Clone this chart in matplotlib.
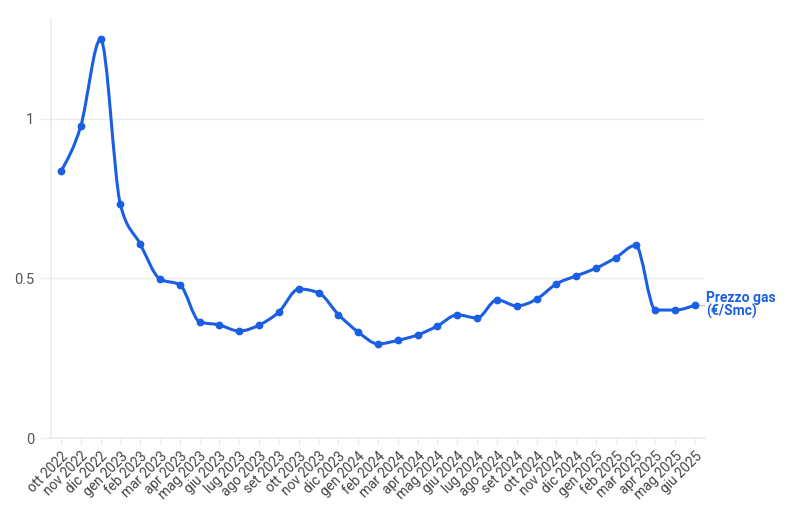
# prezzo gas mensile, ott 2022 - giu 2025

import numpy as np
import matplotlib.pyplot as plt
from matplotlib.path import Path
from matplotlib.patches import PathPatch

plt.rcParams['font.family'] = ['Roboto', 'DejaVu Sans']

# DATA
mesi = ["ott 2022", "nov 2022", "dic 2022", "gen 2023", "feb 2023", "mar 2023",
        "apr 2023", "mag 2023", "giu 2023", "lug 2023", "ago 2023", "set 2023",
        "ott 2023", "nov 2023", "dic 2023", "gen 2024", "feb 2024", "mar 2024",
        "apr 2024", "mag 2024", "giu 2024", "lug 2024", "ago 2024", "set 2024",
        "ott 2024", "nov 2024", "dic 2024", "gen 2025", "feb 2025", "mar 2025",
        "apr 2025", "mag 2025", "giu 2025"]
prezzo = [0.836, 0.977, 1.250, 0.732, 0.608, 0.498,
          0.480, 0.364, 0.354, 0.335, 0.354, 0.395,
          0.467, 0.455, 0.387, 0.332, 0.295, 0.306,
          0.323, 0.351, 0.386, 0.376, 0.433, 0.414,
          0.435, 0.483, 0.508, 0.532, 0.565, 0.604,
          0.401, 0.401, 0.417]
y_ticks = [0, 0.5, 1]
y_tick_labels = ["0", "0.5", "1"]
serie_label = "Prezzo gas\n(€/Smc)"

blue = '#1a5fe3'
grid_col = '#ececec'

x = np.arange(len(prezzo))
y = np.array(prezzo)


# monotone cubic (curveMonotoneX style) as bezier path
def monotone_path(x, y):
	n = len(x)
	h = np.diff(x)
	s = np.diff(y) / h
	t = np.zeros(n)
	for i in range(1, n - 1):
		p = (s[i-1] * h[i] + s[i] * h[i-1]) / (h[i-1] + h[i])
		t[i] = (np.sign(s[i-1]) + np.sign(s[i])) * min(abs(s[i-1]), abs(s[i]), 0.5 * abs(p))
	t[0] = (3 * s[0] - t[1]) / 2
	t[-1] = (3 * s[-1] - t[-2]) / 2
	verts = [(x[0], y[0])]
	codes = [Path.MOVETO]
	for i in range(n - 1):
		dx = h[i] / 3
		verts += [(x[i] + dx, y[i] + dx * t[i]), (x[i+1] - dx, y[i+1] - dx * t[i+1]), (x[i+1], y[i+1])]
		codes += [Path.CURVE4] * 3
	return Path(verts, codes)


fig = plt.figure(figsize=(7.94, 5.16), dpi=100)
ax = fig.add_axes([51/794, 1 - 438/516, (705-51)/794, (438-19)/516])

ax.set_xlim(-0.5, len(prezzo) - 0.5)
ax.set_ylim(0, 1.313)

# grid
for yt in y_ticks[1:]:
	ax.axhline(yt, color=grid_col, lw=1, zorder=0)

ax.add_patch(PathPatch(monotone_path(x, y), fill=False, edgecolor=blue, lw=2.2,
                       capstyle='round', joinstyle='round', zorder=3))
ax.plot(x, y, 'o', color=blue, markersize=4.6, zorder=4)

# label at end of series
ax.plot([x[-1] + 0.2, x[-1] + 0.45], [y[-1], y[-1]], color='#bbbbbb', lw=0.8, clip_on=False)
ax.text(x[-1] + 0.55, y[-1], serie_label, color=blue, fontsize=10, fontweight='bold',
        va='center', ha='left', linespacing=0.95, clip_on=False)

for sp in ['top', 'right']:
	ax.spines[sp].set_visible(False)
for sp in ['left', 'bottom']:
	ax.spines[sp].set_color(grid_col)
	ax.spines[sp].set_linewidth(1.2)

ax.set_yticks(y_ticks)
ax.set_yticklabels(y_tick_labels)
ax.set_xticks(x)
ax.set_xticklabels(mesi, rotation=45, ha='right', rotation_mode='anchor')
ax.tick_params(axis='y', length=8, width=1, color=grid_col, labelsize=10.5, labelcolor='#555555', pad=4)
ax.tick_params(axis='x', length=5, width=1, color=grid_col, labelsize=9.8, labelcolor='#444444', pad=3)

plt.savefig('out.png', dpi=100)
plt.close()
